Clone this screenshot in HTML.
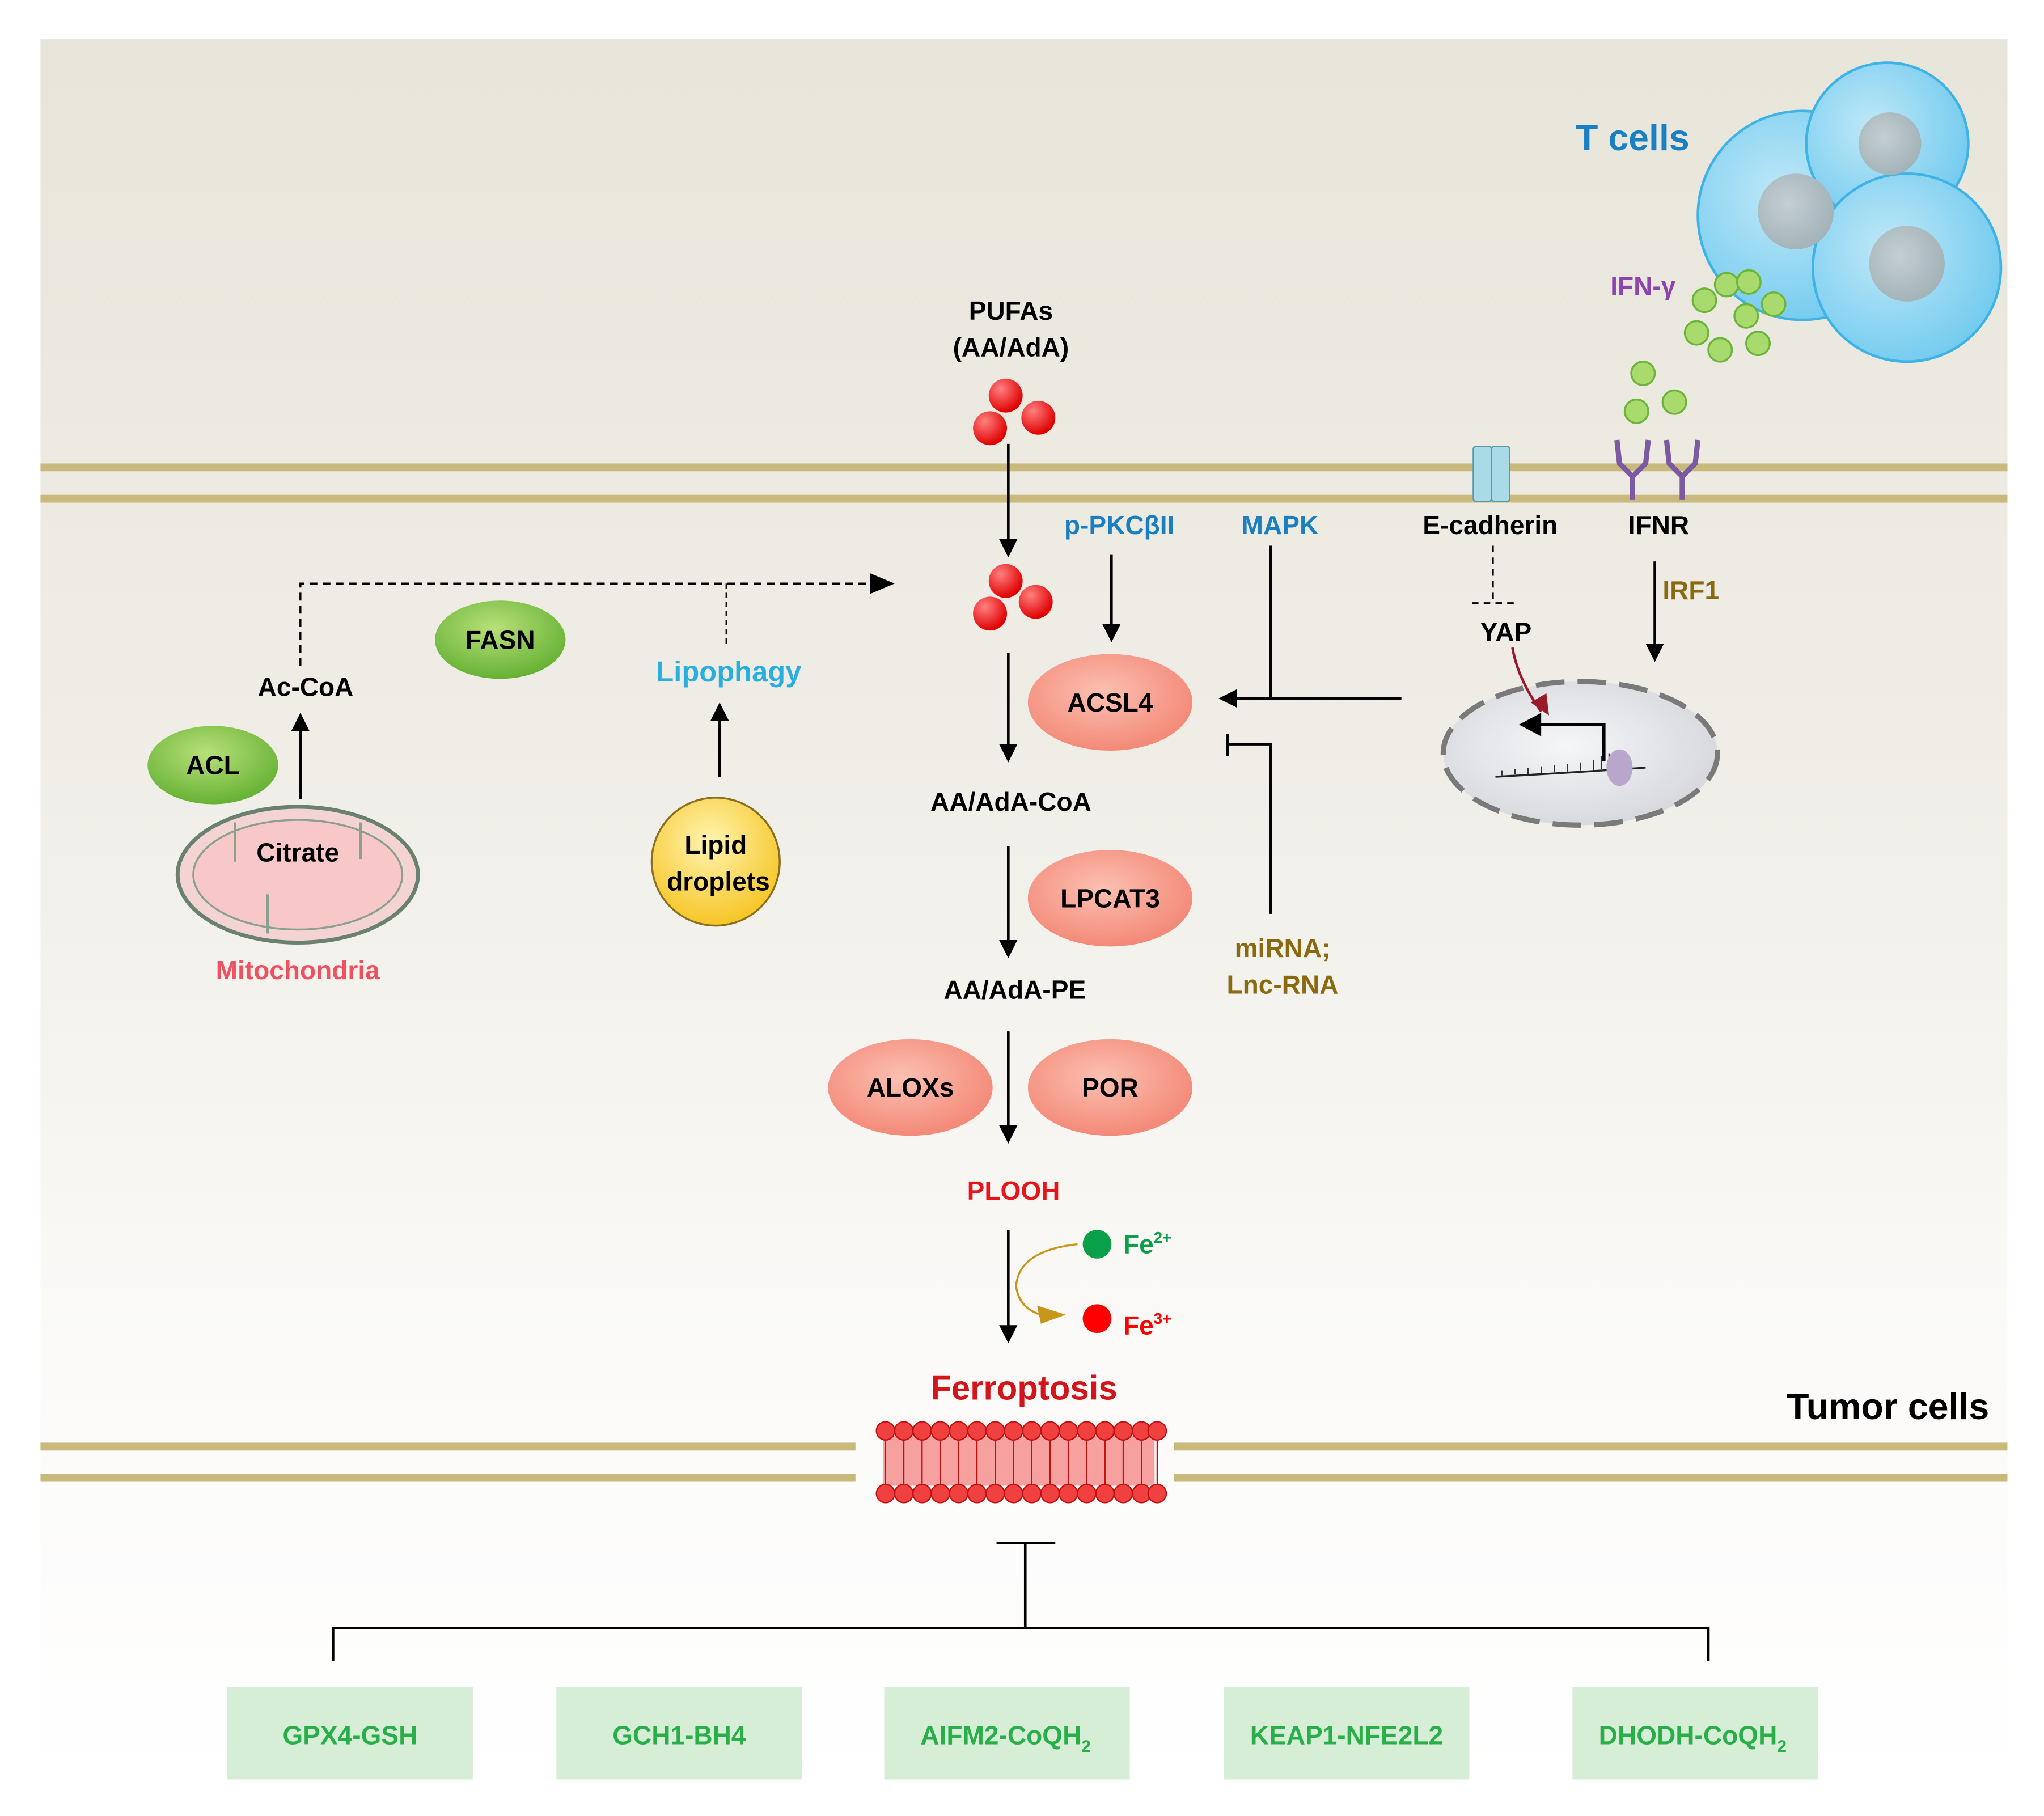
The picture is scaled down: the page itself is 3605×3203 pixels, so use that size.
<!DOCTYPE html>
<html><head><meta charset="utf-8"><style>html,body{margin:0;padding:0;background:#fff}svg{display:block}text{font-family:"Liberation Sans",sans-serif;font-weight:bold}</style></head>
<body>
<svg width="3605" height="3203" viewBox="0 0 1565 1391" preserveAspectRatio="none" xmlns="http://www.w3.org/2000/svg">
<defs>
<linearGradient id="bg" x1="0" y1="0" x2="0" y2="1">
<stop offset="0" stop-color="#e8e5da"/><stop offset="0.4" stop-color="#efede6"/><stop offset="0.75" stop-color="#fbfaf8"/><stop offset="1" stop-color="#ffffff"/></linearGradient>
<radialGradient id="pk" cx="0.45" cy="0.4" r="0.7"><stop offset="0" stop-color="#fcc0b2"/><stop offset="1" stop-color="#f2806e"/></radialGradient>
<radialGradient id="gr" cx="0.45" cy="0.35" r="0.7"><stop offset="0" stop-color="#b8e07a"/><stop offset="1" stop-color="#5fae2e"/></radialGradient>
<radialGradient id="yl" cx="0.45" cy="0.35" r="0.7"><stop offset="0" stop-color="#fff4b0"/><stop offset="1" stop-color="#f6c21c"/></radialGradient>
<radialGradient id="tc" cx="0.4" cy="0.4" r="0.7"><stop offset="0" stop-color="#bfe8f8"/><stop offset="1" stop-color="#6cc8ee"/></radialGradient>
<radialGradient id="nu" cx="0.45" cy="0.45" r="0.6"><stop offset="0" stop-color="#f5f6f8"/><stop offset="1" stop-color="#d6d7db"/></radialGradient>
<radialGradient id="rb" cx="0.35" cy="0.3" r="0.7"><stop offset="0" stop-color="#ff8080"/><stop offset="1" stop-color="#e00000"/></radialGradient>
<radialGradient id="tn" cx="0.4" cy="0.4" r="0.7"><stop offset="0" stop-color="#c4ced2"/><stop offset="1" stop-color="#9fb0b5"/></radialGradient>
<marker id="ah" markerWidth="14" markerHeight="16" refX="12" refY="8" orient="auto" markerUnits="userSpaceOnUse"><path d="M0,1 L14,8 L0,15 z" fill="#000"/></marker>
</defs>
<rect x="31" y="30" width="1506" height="1340" fill="url(#bg)"/>
<g fill="#c9b97c">
<rect x="31" y="355" width="1506" height="6"/><rect x="31" y="379" width="1506" height="6"/>
<rect x="31" y="1105" width="624" height="6"/><rect x="31" y="1129" width="624" height="6"/>
<rect x="899" y="1105" width="638" height="6"/><rect x="899" y="1129" width="638" height="6"/>
</g>
<g stroke="#3fb3e6" stroke-width="2" fill="url(#tc)">
<circle cx="1380" cy="165" r="80"/><circle cx="1445" cy="110" r="62"/><circle cx="1460" cy="205" r="72"/>
</g>
<g fill="url(#tn)"><circle cx="1375" cy="162" r="29"/><circle cx="1447" cy="110" r="24"/><circle cx="1460" cy="202" r="29"/></g>
<text x="1250" y="115" font-size="28" fill="#1a80c4" text-anchor="middle">T cells</text>
<text x="1258" y="226" font-size="20" fill="#8e44ad" text-anchor="middle">IFN-γ</text>
<g fill="#a8da6e" stroke="#6db53a" stroke-width="1.5">
<circle cx="1322" cy="218" r="9"/><circle cx="1339" cy="216" r="9"/><circle cx="1305" cy="230" r="9"/><circle cx="1358" cy="233" r="9"/><circle cx="1337" cy="242" r="9"/><circle cx="1299" cy="255" r="9"/><circle cx="1317" cy="268" r="9"/><circle cx="1346" cy="263" r="9"/><circle cx="1258" cy="286" r="9"/><circle cx="1282" cy="308" r="9"/><circle cx="1253" cy="315" r="9"/>
</g>
<rect x="1128" y="342" width="14" height="42" rx="2" fill="#a9dbe6" stroke="#5a9aa8"/><rect x="1142" y="342" width="14" height="42" rx="2" fill="#a9dbe6" stroke="#5a9aa8"/>
<g stroke="#7a5aa0" stroke-width="4" fill="none"><path d="M1238,337 L1240,355 L1250,365 L1260,355 L1262,337 M1250,365 L1250,383"/><path d="M1276,337 L1278,355 L1288,365 L1298,355 L1300,337 M1288,365 L1288,383"/></g>
<text x="1141" y="409" font-size="20" text-anchor="middle">E-cadherin</text>
<text x="1270" y="409" font-size="20" text-anchor="middle">IFNR</text>
<g stroke="#000" stroke-width="1.5" stroke-dasharray="5,4" fill="none"><path d="M1143,418 V462"/><path d="M1127,462 H1160"/></g>
<text x="1153" y="491" font-size="20" text-anchor="middle">YAP</text>
<path d="M1267,430 V505" stroke="#000" stroke-width="2" marker-end="url(#ah)"/>
<text x="1273" y="459" font-size="20" fill="#8a6a10">IRF1</text>
<ellipse cx="1210" cy="577" rx="105" ry="55" fill="url(#nu)" stroke="#7a7a7a" stroke-width="4" stroke-dasharray="22,10"/>
<path d="M1158,496 Q1162,520 1180,545" stroke="#9a1a2a" stroke-width="2" fill="none"/><path d="M1172,538 L1186,548 L1184,531 z" fill="#9a1a2a"/>
<path d="M1228,583 V555 H1178" stroke="#000" stroke-width="2.5" fill="none"/><path d="M1163,555 L1180,546 L1180,564 z" fill="#000"/>
<path d="M1145,595 Q1200,592 1260,588" stroke="#222" stroke-width="1.5" fill="none"/>
<path d="M1150,594v-4M1160,593v-4M1170,593v-5M1180,592v-5M1190,591v-5M1200,591v-6M1210,590v-6M1220,590v-8M1226,589v-10M1232,589v-12" stroke="#333" stroke-width="1"/>
<ellipse cx="1240" cy="588" rx="10" ry="14" fill="#b9a6cc"/>
<text x="774" y="245" font-size="20" text-anchor="middle">PUFAs</text>
<text x="774" y="273" font-size="20" text-anchor="middle">(AA/AdA)</text>
<g fill="url(#rb)"><circle cx="770" cy="303" r="13"/><circle cx="795" cy="320" r="13"/><circle cx="758" cy="328" r="13"/>
<circle cx="770" cy="445" r="13"/><circle cx="793" cy="461" r="13"/><circle cx="758" cy="470" r="13"/></g>
<g stroke="#000" stroke-width="2" fill="none" marker-end="url(#ah)">
<path d="M772,340 V425"/><path d="M772,500 V582"/><path d="M772,648 V732"/><path d="M772,790 V874"/><path d="M772,942 V1027"/><path d="M851,425 V490"/>
<path d="M1073,535 H935"/><path d="M230,612 V548"/><path d="M551,595 V540"/>
</g>
<path d="M973,418 V535" stroke="#000" stroke-width="2"/>
<path d="M973,700 V570 H940 M940,562 V579" stroke="#000" stroke-width="2" fill="none"/>
<text x="857" y="409" font-size="20" fill="#1a7fc1" text-anchor="middle">p-PKCβII</text>
<text x="980" y="409" font-size="20" fill="#1a7fc1" text-anchor="middle">MAPK</text>
<path d="M230,510 V447 H670" stroke="#000" stroke-width="1.5" stroke-dasharray="6,4" fill="none"/>
<path d="M666,439 L685,447 L666,455 z" fill="#000"/>
<path d="M556,447 V495" stroke="#000" stroke-width="1" stroke-dasharray="4,3"/>
<g fill="url(#pk)"><ellipse cx="850" cy="538" rx="63" ry="37"/><ellipse cx="850" cy="688" rx="63" ry="37"/><ellipse cx="697" cy="833" rx="63" ry="37"/><ellipse cx="850" cy="833" rx="63" ry="37"/></g>
<text x="850" y="545" font-size="20" text-anchor="middle">ACSL4</text>
<text x="850" y="695" font-size="20" text-anchor="middle">LPCAT3</text>
<text x="697" y="840" font-size="20" text-anchor="middle">ALOXs</text>
<text x="850" y="840" font-size="20" text-anchor="middle">POR</text>
<text x="774" y="621" font-size="20" text-anchor="middle">AA/AdA-CoA</text>
<text x="777" y="765" font-size="20" text-anchor="middle">AA/AdA-PE</text>
<text x="982" y="733" font-size="20" fill="#8a6a10" text-anchor="middle">miRNA;</text>
<text x="982" y="761" font-size="20" fill="#8a6a10" text-anchor="middle">Lnc-RNA</text>
<text x="776" y="919" font-size="20" fill="#e8141b" text-anchor="middle">PLOOH</text>
<circle cx="840" cy="953" r="11" fill="#0aa04a"/><circle cx="840" cy="1010" r="11" fill="#f00"/>
<text x="860" y="960" font-size="20" fill="#0aa04a">Fe<tspan font-size="12" dy="-8">2+</tspan></text>
<text x="860" y="1022" font-size="20" fill="#f00">Fe<tspan font-size="12" dy="-8">3+</tspan></text>
<path d="M825,953 Q780,958 778,985 Q780,1003 800,1008" stroke="#c8961a" stroke-width="1.5" fill="none"/>
<path d="M794,1000 L816,1007 L797,1014 z" fill="#c8961a"/>
<text x="784" y="1072" font-size="26" fill="#d4141b" text-anchor="middle">Ferroptosis</text>
<text x="1523" y="1087" font-size="28" text-anchor="end">Tumor cells</text>
<rect x="676" y="1100" width="208" height="38" fill="#f6a0a0"/>
<g fill="#f04040" stroke="#c01010" stroke-width="1">
<circle cx="678" cy="1096" r="7"/><circle cx="692" cy="1096" r="7"/><circle cx="706" cy="1096" r="7"/><circle cx="720" cy="1096" r="7"/><circle cx="734" cy="1096" r="7"/><circle cx="748" cy="1096" r="7"/><circle cx="762" cy="1096" r="7"/><circle cx="776" cy="1096" r="7"/><circle cx="790" cy="1096" r="7"/><circle cx="804" cy="1096" r="7"/><circle cx="818" cy="1096" r="7"/><circle cx="832" cy="1096" r="7"/><circle cx="846" cy="1096" r="7"/><circle cx="860" cy="1096" r="7"/><circle cx="874" cy="1096" r="7"/><circle cx="886" cy="1096" r="7"/>
<circle cx="678" cy="1144" r="7"/><circle cx="692" cy="1144" r="7"/><circle cx="706" cy="1144" r="7"/><circle cx="720" cy="1144" r="7"/><circle cx="734" cy="1144" r="7"/><circle cx="748" cy="1144" r="7"/><circle cx="762" cy="1144" r="7"/><circle cx="776" cy="1144" r="7"/><circle cx="790" cy="1144" r="7"/><circle cx="804" cy="1144" r="7"/><circle cx="818" cy="1144" r="7"/><circle cx="832" cy="1144" r="7"/><circle cx="846" cy="1144" r="7"/><circle cx="860" cy="1144" r="7"/><circle cx="874" cy="1144" r="7"/><circle cx="886" cy="1144" r="7"/>
</g>
<g stroke="#c01010" stroke-width="1" fill="none">
<path d="M678,1103V1137M692,1103V1137M706,1103V1137M720,1103V1137M734,1103V1137M748,1103V1137M762,1103V1137M776,1103V1137M790,1103V1137M804,1103V1137M818,1103V1137M832,1103V1137M846,1103V1137M860,1103V1137M874,1103V1137M886,1103V1137"/>
</g>
<ellipse cx="383" cy="490" rx="50" ry="30" fill="url(#gr)"/><text x="383" y="497" font-size="20" text-anchor="middle">FASN</text>
<ellipse cx="163" cy="586" rx="50" ry="30" fill="url(#gr)"/><text x="163" y="593" font-size="20" text-anchor="middle">ACL</text>
<text x="234" y="533" font-size="20" text-anchor="middle">Ac-CoA</text>
<text x="558" y="522" font-size="22" fill="#29aee0" text-anchor="middle">Lipophagy</text>
<ellipse cx="228" cy="670" rx="92" ry="52" fill="#f4d4d2" stroke="#6a8070" stroke-width="3"/>
<ellipse cx="228" cy="670" rx="80" ry="42" fill="#f8c8c8" stroke="#8aa090" stroke-width="1.5"/>
<path d="M180,630 V660 M276,630 V658 M205,715 V685" stroke="#8aa090" stroke-width="2"/>
<text x="228" y="660" font-size="20" text-anchor="middle">Citrate</text>
<text x="228" y="750" font-size="20" fill="#f05060" text-anchor="middle">Mitochondria</text>
<circle cx="548" cy="660" r="49" fill="url(#yl)" stroke="#8a7020" stroke-width="1.5"/>
<text x="548" y="654" font-size="20" text-anchor="middle">Lipid</text>
<text x="550" y="682" font-size="20" text-anchor="middle">droplets</text>
<g stroke="#000" stroke-width="2" fill="none"><path d="M763,1182 H808 M785,1182 V1247 M255,1272 V1247 H1308 V1272"/></g>
<g fill="#d5eed5">
<rect x="174" y="1292" width="188" height="71"/><rect x="426" y="1292" width="188" height="71"/><rect x="677" y="1292" width="188" height="71"/><rect x="937" y="1292" width="188" height="71"/><rect x="1204" y="1292" width="188" height="71"/>
</g>
<g font-size="20" fill="#2aae4a" text-anchor="middle">
<text x="268" y="1336">GPX4-GSH</text><text x="520" y="1336">GCH1-BH4</text>
<text x="770" y="1336">AIFM2-CoQH<tspan font-size="13" dy="6">2</tspan></text>
<text x="1031" y="1336">KEAP1-NFE2L2</text>
<text x="1296" y="1336">DHODH-CoQH<tspan font-size="13" dy="6">2</tspan></text>
</g>
</svg>
</body></html>
